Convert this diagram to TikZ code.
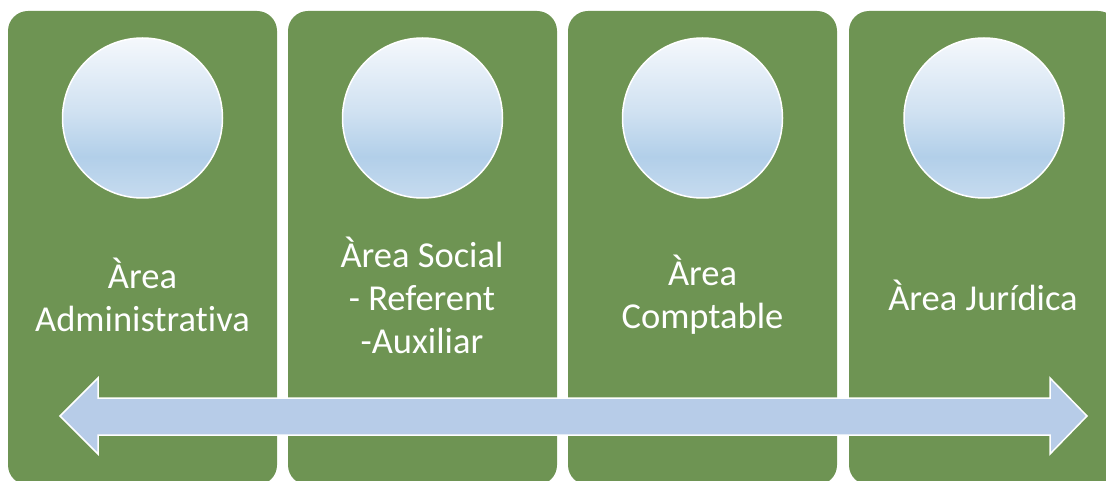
\documentclass[tikz,border=0pt]{standalone}
\usepackage{fontspec}
\setmainfont[Ligatures={NoCommon}]{Carlito}
\definecolor{boxgreen}{HTML}{6E9453}
\definecolor{arrowblue}{HTML}{B7CCE8}
\definecolor{circtop}{HTML}{F5F8FC}
\definecolor{circmid}{HTML}{B2CFE9}
\definecolor{circbot}{HTML}{C6DBEF}
\pgfdeclareverticalshading{circshade}{100bp}{
  color(0bp)=(circbot); color(25bp)=(circbot); color(38bp)=(circmid); color(52bp)=(circmid!55!circtop); color(75bp)=(circtop); color(100bp)=(circtop)}
\tikzset{
  panel/.style={rectangle, rounded corners=20pt, fill=boxgreen, draw=none,
    minimum width=269pt, minimum height=474pt, inner sep=0pt},
  disc/.style={circle, minimum size=160pt, inner sep=0pt, draw=white, line width=1.5pt, shading=circshade},
  label/.style={text=white, font=\fontsize{36.5}{43}\selectfont, align=center, inner sep=0pt},
  dblarrow/.style={fill=arrowblue, draw=white, line width=1.5pt, line join=miter}
}
\begin{document}
\begin{tikzpicture}[x=1pt,y=-1pt]
\useasboundingbox (0,0) rectangle (1106,481);
\clip (0,0) rectangle (1106,481);
\node[panel] (p1) at (142.5,248) {};
\node[panel] (p2) at (422.5,248) {};
\node[panel] (p3) at (702.5,248) {};
\node[panel] (p4) at (983.5,248) {};
\node[disc] (c1) at (142.5,118) {};
\node[disc] (c2) at (422.5,118) {};
\node[disc] (c3) at (702.5,118) {};
\node[disc] (c4) at (984,118) {};
\node[label] (t1) at (142.5,295) {Àrea\\Administrativa};
\node[label] (t2) at (422,295) {Àrea Social\\- Referent\\-Auxiliar};
\node[label] (t3) at (702.5,295) {Àrea\\Comptable};
\node[label] (t4) at (983,295) {Àrea Jurídica};
\draw[dblarrow] (60,416) -- (98,378) -- (98,398) -- (1050,398) -- (1050,378)
  -- (1087,416) -- (1050,454) -- (1050,435) -- (98,435) -- (98,454) -- cycle;
\end{tikzpicture}
\end{document}
